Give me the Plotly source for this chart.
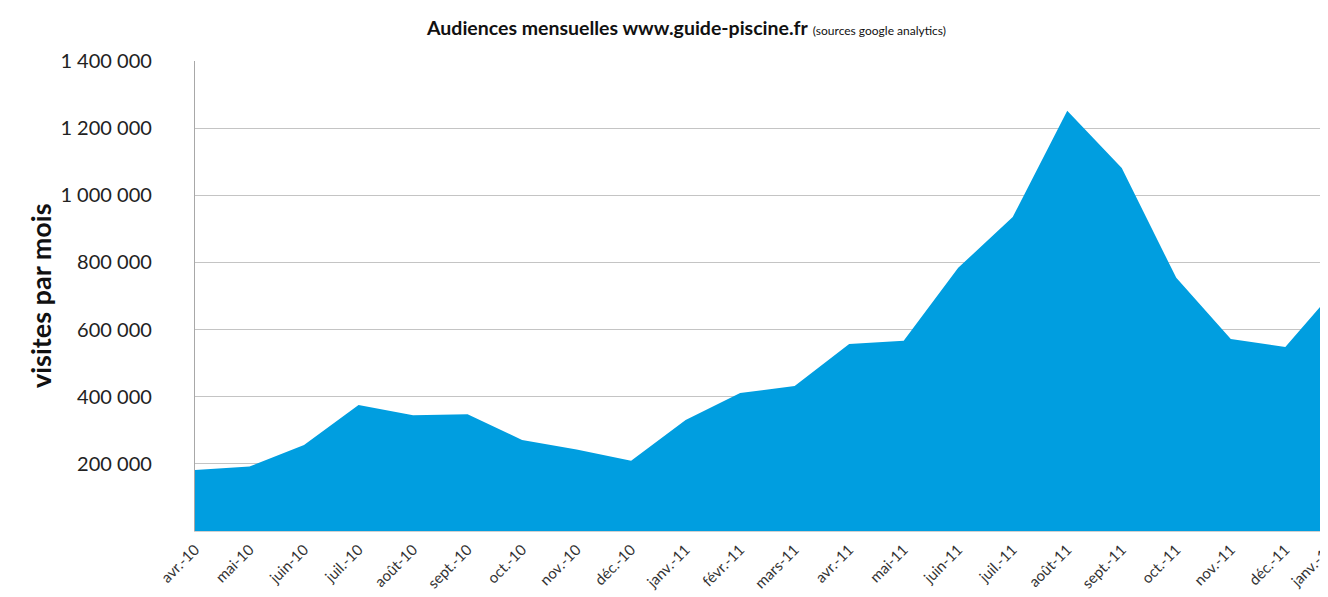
import plotly.graph_objects as go

months = ["avr.-10", "mai-10", "juin-10", "juil.-10", "août-10", "sept.-10", "oct.-10",
          "nov.-10", "déc.-10", "janv.-11", "févr.-11", "mars-11", "avr.-11", "mai-11",
          "juin-11", "juil.-11", "août-11", "sept.-11", "oct.-11", "nov.-11", "déc.-11",
          "janv.-12"]
visits = [182000, 192000, 256000, 375000, 345000, 348000, 271000,
          243000, 209000, 331000, 411000, 432000, 557000, 567000,
          784000, 935000, 1252000, 1081000, 754000, 572000, 548000,
          735000]
ytick_vals = [200000, 400000, 600000, 800000, 1000000, 1200000, 1400000]
ytick_text = ["200 000", "400 000", "600 000", "800 000", "1 000 000", "1 200 000", "1 400 000"]

idx = list(range(len(months)))
x_end = 20.93

# page body adds 8px offset; plot area spans x 195..(beyond 1328), y 61..531 in the window
W, H = 1328, 589
L, T, B = 187, 53, 66
PW, PH = W - L, H - T - B

fig = go.Figure()
fig.add_trace(go.Scatter(
    x=idx, y=visits, mode="lines", fill="tozeroy",
    line=dict(width=0, color="#009ee0"), fillcolor="#009ee0",
    hoverinfo="x+y", showlegend=False,
))

fig.update_layout(
    width=W, height=H,
    margin=dict(l=L, r=0, t=T, b=B),
    paper_bgcolor="white", plot_bgcolor="white",
    font=dict(family="Lato, Arial, sans-serif", color="#222222"),
    xaxis=dict(
        range=[0, x_end], tickmode="array", tickvals=idx[:-1], ticktext=months[:-1],
        tickangle=-45, tickfont=dict(size=15, color="#333333"),
        showgrid=False, zeroline=False, showline=True, linecolor="#d0d0d0", linewidth=1,
        ticks="", ticklabelstandoff=3,
    ),
    yaxis=dict(
        range=[0, 1400000], tickmode="array", tickvals=ytick_vals, ticktext=ytick_text,
        tickfont=dict(size=20, color="#222222"),
        showgrid=True, gridcolor="#c4c4c4", gridwidth=1.3, zeroline=False,
        showline=True, linecolor="#a8a8a8", linewidth=1.3, ticks="",
        ticklabelstandoff=38,
    ),
    annotations=[
        dict(text="<b>Audiences mensuelles www.guide-piscine.fr</b> <span style='font-size:12px'>(sources google analytics)</span>",
             xref="paper", yref="paper", x=(686 - 195) / PW, y=1 + (61 - 27) / PH,
             xanchor="center", yanchor="middle", showarrow=False,
             font=dict(size=19.5, color="#111111", family="Lato, Arial, sans-serif")),
        dict(text="<b>visites par mois</b>", xref="paper", yref="paper",
             x=(40 - 195) / PW, y=(531 - 295) / PH, textangle=-90,
             xanchor="center", yanchor="middle", showarrow=False,
             font=dict(size=27, color="#111111", family="Lato, Arial, sans-serif")),
        dict(text=months[-1], xref="paper", yref="paper",
             x=21 / x_end, y=-0.012, textangle=-45, xanchor="right", yanchor="top",
             showarrow=False, font=dict(size=15, color="#333333")),
    ],
)

fig.write_html("out.html")
